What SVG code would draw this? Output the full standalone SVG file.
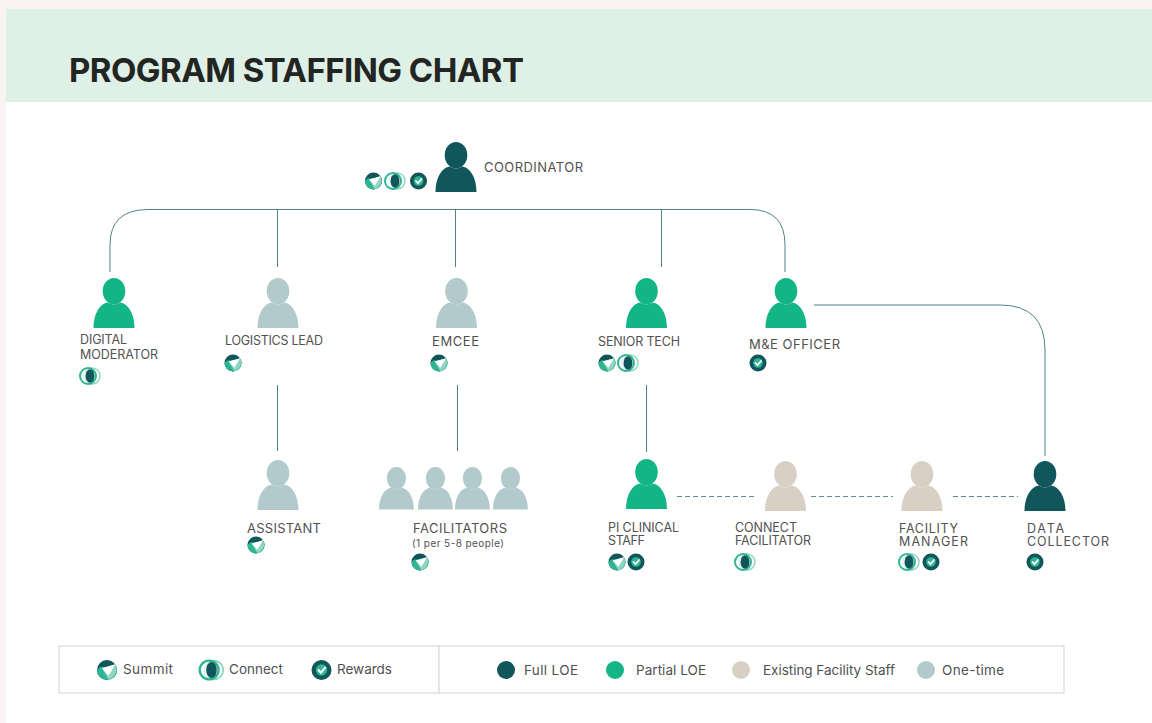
<svg xmlns="http://www.w3.org/2000/svg" width="1152" height="723" viewBox="0 0 1152 723">
<style>
text{font-family:"Inter","Liberation Sans",sans-serif;fill:#515151;font-size:12.5px}
.full{fill:#11565a}.partial{fill:#13b587}.staff{fill:#d8cfc5}.once{fill:#b2cacb}
.c{fill:none;stroke:#3e7478;stroke-width:.9}
.d{fill:none;stroke:#5f8e92;stroke-width:1;stroke-dasharray:5 3}
.lg{fill:#fff;stroke:#d9dcdc;stroke-width:1.2}
.l{font-size:13.5px}
.m{font-size:13px}
</style>
<defs>
<symbol id="person" viewBox="0 0 41 50" width="41" height="50" overflow="visible">
<ellipse cx="20.5" cy="13.2" rx="11.3" ry="13.2"/>
<path d="M0 50C0 35 7 25.500 14 24.500Q20.500 28.500 27 24.500C34 25.500 41 35 41 50Z"/>
</symbol>
<g id="summit">
<circle r="8.500" fill="#11565a"/>
<path d="M-8.500 0A8.500 8.500 0 0 0 8.500 0L8 -3L-6 -2.500Z" fill="#2eb592"/>
<path d="M-4.300 -1.400L7 -4.800C9.500 0 7.500 6 1.500 8.400Z" fill="#8fd6c2"/>
<path d="M-4.300 -1.400L7 -4.800L1.400 4.800Z" fill="#fff"/>
</g>
<g id="connect">
<circle cx="2" r="8" fill="#fff" stroke="#8fd6c2" stroke-width="1.500"/>
<circle cx="-2" r="8" fill="#fff" fill-opacity=".7" stroke="#2eb592" stroke-width="2"/>
<ellipse cx="0" rx="4.500" ry="6.800" fill="#11565a"/>
</g>
<g id="rewards">
<circle r="8.500" fill="#11565a"/>
<circle r="4.800" fill="#2eb592"/>
<path d="M-3 -0.500L-0.500 2.200L3.500 -2.500" fill="none" stroke="#fff" stroke-width="1.800"/>
</g>
</defs>
<rect width="1152" height="723" fill="#fff"/>
<path d="M0 0H1152V9H6V723H0Z" fill="#f9f4f3"/>
<rect x="6" y="9" width="1146" height="93" fill="#dff0e7"/>
<text x="69" y="82" style="font-size:33px;font-weight:700;fill:#232522" textLength="455">PROGRAM STAFFING CHART</text>

<g id="connectors">
<path class="c" d="M110 272V245Q110 209.500 148 209.500H750Q785 209.500 785 245V272"/>
<path class="c" d="M277.500 209.500V267M455.500 209.500V267M661.500 209.500V267"/>
<path class="c" d="M277.500 385V451M457.500 385V451M646.500 385V452"/>
<path class="c" d="M814 305H1000Q1045 305 1045 350V456"/>
<path class="d" d="M677 496.500H757M811 496.500H893M953 496.500H1018"/>
</g>

<g id="coordinator"><use href="#person" x="435.500" y="142" class="full"/><use href="#summit" x="373.500" y="181"/><use href="#connect" x="395" y="181"/><use href="#rewards" x="418.500" y="181"/><text x="484" y="172" class="m" textLength="99">COORDINATOR</text></g>
<g id="digital-moderator"><use href="#person" x="93.500" y="278" class="partial"/><text x="80" y="344" textLength="47">DIGITAL</text><text x="80" y="359" textLength="78">MODERATOR</text><use href="#connect" x="90" y="376"/></g>
<g id="logistics-lead"><use href="#person" x="257.500" y="278" class="once"/><text x="225" y="345" textLength="98">LOGISTICS LEAD</text><use href="#summit" x="233" y="363"/></g>
<g id="emcee"><use href="#person" x="436" y="278" class="once"/><text x="432" y="346" class="m" textLength="47">EMCEE</text><use href="#summit" x="439" y="363"/></g>
<g id="senior-tech"><use href="#person" x="626" y="278" class="partial"/><text x="598" y="346" textLength="82">SENIOR TECH</text><use href="#summit" x="607" y="363"/><use href="#connect" x="628" y="363"/></g>
<g id="me-officer"><use href="#person" x="765.500" y="278" class="partial"/><text x="749" y="349" class="m" textLength="91">M&amp;E OFFICER</text><use href="#rewards" x="758" y="363"/></g>
<g id="assistant"><use href="#person" x="257.500" y="460" class="once"/><text x="247" y="533" class="m" textLength="74">ASSISTANT</text><use href="#summit" x="256" y="545"/></g>
<g id="facilitators"><use href="#person" x="379" y="467" class="once" transform="translate(379 467) scale(.85) translate(-379 -467)"/><use href="#person" x="418" y="467" class="once" transform="translate(418 467) scale(.85) translate(-418 -467)"/><use href="#person" x="455" y="467" class="once" transform="translate(455 467) scale(.85) translate(-455 -467)"/><use href="#person" x="493" y="467" class="once" transform="translate(493 467) scale(.85) translate(-493 -467)"/><text x="413" y="533" class="m" textLength="94">FACILITATORS</text><text x="412" y="547" style="font-size:10px" textLength="92">(1 per 5-8 people)</text><use href="#summit" x="420" y="562"/></g>
<g id="pi-clinical-staff"><use href="#person" x="626" y="459" class="partial"/><text x="608" y="532" textLength="71">PI CLINICAL</text><text x="608" y="545" textLength="37">STAFF</text><use href="#summit" x="617" y="562"/><use href="#rewards" x="636" y="562"/></g>
<g id="connect-facilitator"><use href="#person" x="765" y="461" class="staff"/><text x="735" y="532" textLength="62">CONNECT</text><text x="735" y="545" textLength="76">FACILITATOR</text><use href="#connect" x="745" y="562"/></g>
<g id="facility-manager"><use href="#person" x="901.500" y="461" class="staff"/><text x="899" y="533" textLength="59">FACILITY</text><text x="899" y="546" textLength="69">MANAGER</text><use href="#connect" x="909" y="562"/><use href="#rewards" x="931" y="562"/></g>
<g id="data-collector"><use href="#person" x="1024.500" y="461" class="full"/><text x="1027" y="533" textLength="37">DATA</text><text x="1027" y="546" textLength="82">COLLECTOR</text><use href="#rewards" x="1035" y="562"/></g>

<g id="legend">
<rect class="lg" x="59" y="646" width="380" height="47"/><rect class="lg" x="439" y="646" width="625" height="47"/>
<use href="#summit" transform="translate(107 670) scale(1.180)"/><text class="l" x="123" y="674" textLength="50">Summit</text>
<use href="#connect" transform="translate(211.500 670) scale(1.180)"/><text class="l" x="229" y="674" textLength="54">Connect</text>
<use href="#rewards" transform="translate(321.500 670) scale(1.180)"/><text class="l" x="337" y="674" textLength="55">Rewards</text>
<circle class="full" cx="506" cy="670" r="9"/><text class="l" x="524" y="675" textLength="54">Full LOE</text>
<circle class="partial" cx="615" cy="670" r="9"/><text class="l" x="636" y="675" textLength="70">Partial LOE</text>
<circle class="staff" cx="741" cy="670" r="9"/><text class="l" x="763" y="675" textLength="132">Existing Facility Staff</text>
<circle class="once" cx="926" cy="670" r="9"/><text class="l" x="942" y="675" textLength="62">One-time</text>
</g>
</svg>
